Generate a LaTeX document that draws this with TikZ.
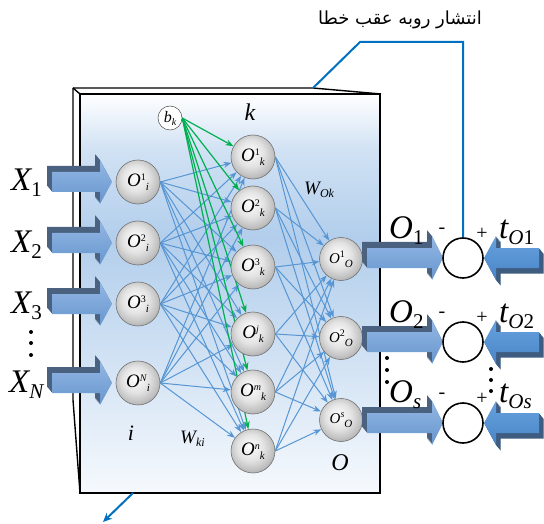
\documentclass[tikz,border=0pt]{standalone}
\usepackage{fontspec}
\setmainfont{Liberation Serif}
\newfontfamily\arabicfont[Script=Arabic]{DejaVu Sans}
\TeXXeTstate=1
\usetikzlibrary{arrows.meta}
\pgfdeclarelayer{panel}
\pgfdeclarelayer{links}
\pgfsetlayers{panel,links,main}
\definecolor{linkblue}{RGB}{86,150,212}
\definecolor{bpblue}{RGB}{0,112,192}
\definecolor{biasgreen}{RGB}{0,176,80}
\definecolor{arrdark}{RGB}{74,98,128}
\definecolor{arrtop}{RGB}{146,183,228}
\definecolor{arrbot}{RGB}{104,150,206}
\definecolor{tdark}{RGB}{62,92,128}
\definecolor{tarrtop}{RGB}{104,162,222}
\definecolor{tarrbot}{RGB}{72,132,200}
\definecolor{panelblue}{RGB}{178,206,236}

\pgfdeclareverticalshading{panelshade}{100bp}{%
 color(0bp)=(white!88!panelblue); color(25bp)=(white!88!panelblue);
 color(42bp)=(panelblue!60); color(57bp)=(panelblue); color(68bp)=(panelblue!60);
 color(75bp)=(white); color(100bp)=(white)}
\pgfdeclareradialshading{nodeball}{\pgfpoint{-4bp}{6bp}}{%
 color(0bp)=(white); color(5bp)=(white!96!black); color(15bp)=(black!11);
 color(25bp)=(black!25); color(32bp)=(black!40); color(50bp)=(black!42)}

\newcommand{\apoly}[4]{(#1,#4-10) -- (#2,#4-10) -- (#2,#4-22) -- (#3,#4) -- (#2,#4+22) -- (#2,#4+10) -- (#1,#4+10) -- cycle}
\newcommand{\rarr}[4]{%
 \foreach \t in {1,...,10}{\fill[arrdark, shift={(-\t*0.5,-\t*0.6)}] \apoly{#1}{#2}{#3}{#4};}
 \shade[top color=arrtop, bottom color=arrbot] \apoly{#1}{#2}{#3}{#4};}
\newcommand{\larr}[4]{%
 \foreach \t in {1,...,10}{\fill[tdark, shift={(\t*0.45,\t*0.55)}] \apoly{#1}{#2}{#3}{#4};}
 \shade[top color=tarrtop, bottom color=tarrbot] \apoly{#1}{#2}{#3}{#4};}

\newcommand{\bv}[2]{{\fontsize{33}{33}\selectfont\itshape #1}\raisebox{-6pt}{\fontsize{21}{21}\selectfont #2}}
\newcommand{\olab}[3][19]{{\fontsize{#1}{#1}\selectfont\itshape O}\raisebox{6pt}{\fontsize{10}{10}\selectfont #2}\raisebox{-4pt}{\fontsize{11}{11}\selectfont\itshape #3}}

\tikzset{
 neuron/.style={circle, minimum size=44pt, inner sep=0pt, shading=nodeball, draw=black!55, line width=0.6pt},
 outneuron/.style={neuron, minimum size=43pt},
 sumc/.style={circle, minimum size=40pt, inner sep=0pt, draw=black, line width=1.6pt, fill=white},
 bias/.style={circle, minimum size=24pt, inner sep=0pt, draw=black!70, line width=0.5pt, fill=white},
 link/.style={draw=linkblue, line width=1pt, -{Stealth[length=8pt,width=6pt]}},
 blink/.style={draw=biasgreen, line width=1.2pt, -{Stealth[length=8pt,width=6pt]}},
 bp/.style={draw=bpblue, line width=2pt},
 boxline/.style={draw=black, line width=1.4pt},
 lab/.style={inner sep=0pt, anchor=base west},
 midlab/.style={inner sep=0pt, font=\fontsize{22}{22}\selectfont\itshape},
 sign/.style={inner sep=0pt, font=\fontsize{20}{20}\selectfont},
}

\begin{document}
\begin{tikzpicture}[x=1pt,y=-1pt]
\useasboundingbox (0,0) rectangle (544,524);

% box
\begin{pgfonlayer}{panel}
\draw[boxline] (73,88) -- (313,88) -- (381,94);
\draw[boxline] (73,88) -- (73,400) -- (80,493);
\draw[boxline] (73,88) -- (80,94);
\shadedraw[shading=panelshade, draw=black, line width=1.4pt] (80,94) rectangle (380,493);
\end{pgfonlayer}

% nodes
\node[neuron] (i1) at (138,182) {\olab{1}{i}};
\node[neuron] (i2) at (138,243) {\olab{2}{i}};
\node[neuron] (i3) at (138,304) {\olab{3}{i}};
\node[neuron] (i4) at (138,383) {\olab{\textit{N}}{i}};
\node[neuron] (h1) at (253,157) {\olab{1}{k}};
\node[neuron] (h2) at (253,208) {\olab{2}{k}};
\node[neuron] (h3) at (253,267) {\olab{3}{k}};
\node[neuron] (h4) at (253,334) {\olab{\textit{j}}{k}};
\node[neuron] (h5) at (253,392) {\olab{\textit{m}}{k}};
\node[neuron] (h6) at (253,451) {\olab{\textit{n}}{k}};
\node[outneuron] (o1) at (341,259) {\olab[15]{1}{O}};
\node[outneuron] (o2) at (341,338) {\olab[15]{2}{O}};
\node[outneuron] (o3) at (341,420) {\olab[15]{\textit{s}}{O}};
\node[bias] (bk) at (170,118) {{\fontsize{16}{16}\selectfont\itshape b}\raisebox{-3pt}{\fontsize{10}{10}\selectfont\itshape k}};

% links (behind nodes)
\begin{pgfonlayer}{links}
\foreach \a in {1,...,4}{\foreach \b in {1,...,6}{\draw[link] (i\a.east) -- (h\b);}}
\foreach \a in {1,...,6}{\foreach \b in {1,2,3}{\draw[link] (h\a.east) -- (o\b);}}
\foreach \b in {1,...,6}{\draw[blink] (bk.east) -- (h\b);}
\end{pgfonlayer}

% layer labels
\node[midlab] (li) at (131,433) {i};
\node[midlab, font=\fontsize{24}{24}\selectfont\itshape] (lk) at (250,112) {k};
\node[midlab, font=\fontsize{24}{24}\selectfont\itshape] (lo) at (340,463) {O};
\node[lab] (wki) at (180,443) {{\fontsize{19}{19}\selectfont\itshape W}\raisebox{-3pt}{\fontsize{12}{12}\selectfont\itshape ki}};
\node[lab] (wok) at (304,195) {{\fontsize{19}{19}\selectfont\itshape W}\raisebox{-3pt}{\fontsize{12}{12}\selectfont\itshape Ok}};

% input arrows
\rarr{52}{100}{112}{182}
\rarr{52}{100}{112}{243}
\rarr{52}{100}{112}{304}
\rarr{52}{100}{112}{383}

% input labels
\node[lab] (x1) at (11,190) {\bv{X}{1}};
\node[lab] (x2) at (11,252) {\bv{X}{2}};
\node[lab] (x3) at (11,313) {\bv{X}{3}};
\node[lab] (xn) at (9,392) {\bv{X}{\textit{N}}};
\foreach \yy in {332,343,355}{\fill (31,\yy) circle (2pt);}

% output arrows and comparators
\rarr{367}{432}{443}{258}
\rarr{367}{432}{443}{342}
\rarr{367}{432}{443}{423}
\larr{539}{496}{484}{258}
\larr{539}{496}{484}{342}
\larr{539}{496}{484}{423}

\node[sumc] (s1) at (463,258) {};
\node[sumc] (s2) at (463,342) {};
\node[sumc] (s3) at (463,423) {};

\node[lab] (lo1) at (389,238) {\bv{O}{1}};
\node[lab] (lo2) at (389,322) {\bv{O}{2}};
\node[lab] (lo3) at (389,402) {\bv{O}{\textit{s}}};
\node[lab] (lt1) at (499,238) {\bv{t}{\textit{O}1}};
\node[lab] (lt2) at (499,322) {\bv{t}{\textit{O}2}};
\node[lab] (lt3) at (499,402) {\bv{t}{\textit{Os}}};

\foreach \yy in {258,342,423}{%
 \node[sign] at (442,\yy-27) {-};
 \node[sign] at (482,\yy-24) {+};}

\foreach \yy in {358,370,382}{\fill (387,\yy) circle (2pt);}
\foreach \yy in {369,380,391}{\fill (491,\yy) circle (2pt);}

% back-propagation path
\coordinate (bpA) at (463,42);
\coordinate (bpB) at (360,42);
\coordinate (bpC) at (313,88);
\coordinate (bpD) at (133,493);
\coordinate (bpE) at (103,522);
\draw[bp, line join=miter] (s1.north) -- (bpA) -- (bpB) -- (bpC);
\draw[bp, -{Stealth[length=9pt,width=8pt]}] (bpD) -- (bpE);
\node (bptext) at (400,20) {\arabicfont\fontsize{18}{18}\selectfont\beginR انتشار روبه عقب خطا\endR};
\end{tikzpicture}
\end{document}
